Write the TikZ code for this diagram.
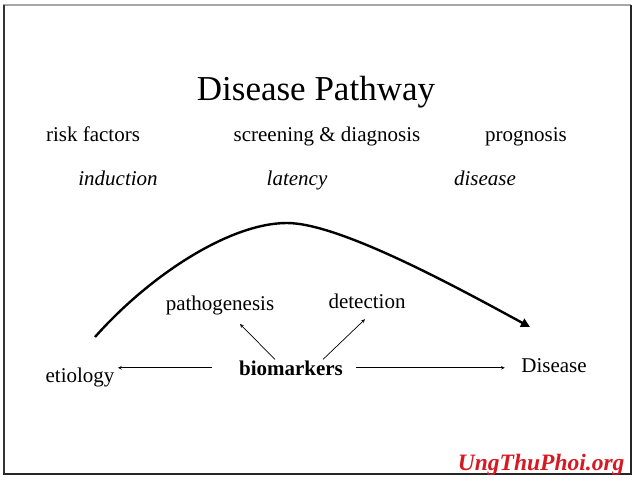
\documentclass[tikz,border=0pt]{standalone}
\usepackage{fontspec}
\setmainfont{Liberation Serif}
\usepackage{tikz}
\usetikzlibrary{arrows.meta,positioning}
\usepackage{xcolor}
\definecolor{wmred}{RGB}{215,25,35}

\begin{document}
\begin{tikzpicture}[x=1pt,y=-1pt]
	\useasboundingbox (0,0) rectangle (635,480);
	% frame
	\fill[white] (3,5) rectangle (631,474);
	\draw[gray!70,line width=1.2pt] (3,5) -- (631,5);
	\draw[black!80,line width=2pt] (4,5) -- (4,474);
	\draw[black!85,line width=2.5pt] (631,5) -- (631,474) -- (3,474);
	
	\node[anchor=base] (title) at (316,100) {\fontsize{35}{40}\selectfont Disease Pathway};
	\begin{scope}[every node/.style={anchor=base,font=\fontsize{21}{24}\selectfont}]
		\node (risk) at (93,141) {risk factors};
		\node (screen) at (327,141) {screening \& diagnosis};
		\node (prog) at (526,141) {prognosis};
		\node (induct) at (118,185) {\itshape induction};
		\node (laten) at (297,185) {\itshape latency};
		\node (dis) at (485,185) {\itshape disease};
		\node (patho) at (220,310) {pathogenesis};
		\node (detect) at (367,308) {detection};
		\node (bio) at (291,375) {\bfseries biomarkers};
		\node (etio) at (80,382) {etiology};
		\node (Dis) at (554,372) {Disease};
	\end{scope}
	
	\coordinate (cstart) at (95,337);
	\coordinate (ctop) at (287,223);
	\coordinate (cend) at (530,327);
	\draw[line width=2.4pt,-{Triangle[length=9pt,width=9pt]}] (cstart) .. controls (150,275) and (230,223) .. (ctop)
		.. controls (340,223) and (460,289) .. (cend);
	
	\begin{scope}[line width=0.7pt]
		\draw[-stealth] ([xshift=-24pt]bio.west) -- (etio.east |- bio.west);
		\draw[-stealth] ([xshift=10pt]bio.east) -- ([xshift=-13pt]Dis.west |- bio.east);
		\draw[-stealth] ([xshift=-16pt,yshift=-2.5pt]bio.north) -- ([xshift=20pt,yshift=-6pt]patho.south);
		\draw[-stealth] ([xshift=32pt,yshift=-2.5pt]bio.north) -- ([xshift=-2pt,yshift=-7.5pt]detect.south);
	\end{scope}
	
	\node[anchor=base east,text=wmred,font=\fontsize{23.5}{26}\selectfont\bfseries\itshape] (wm) at (628,470) {UngThuPhoi.org};
\end{tikzpicture}
\end{document}
